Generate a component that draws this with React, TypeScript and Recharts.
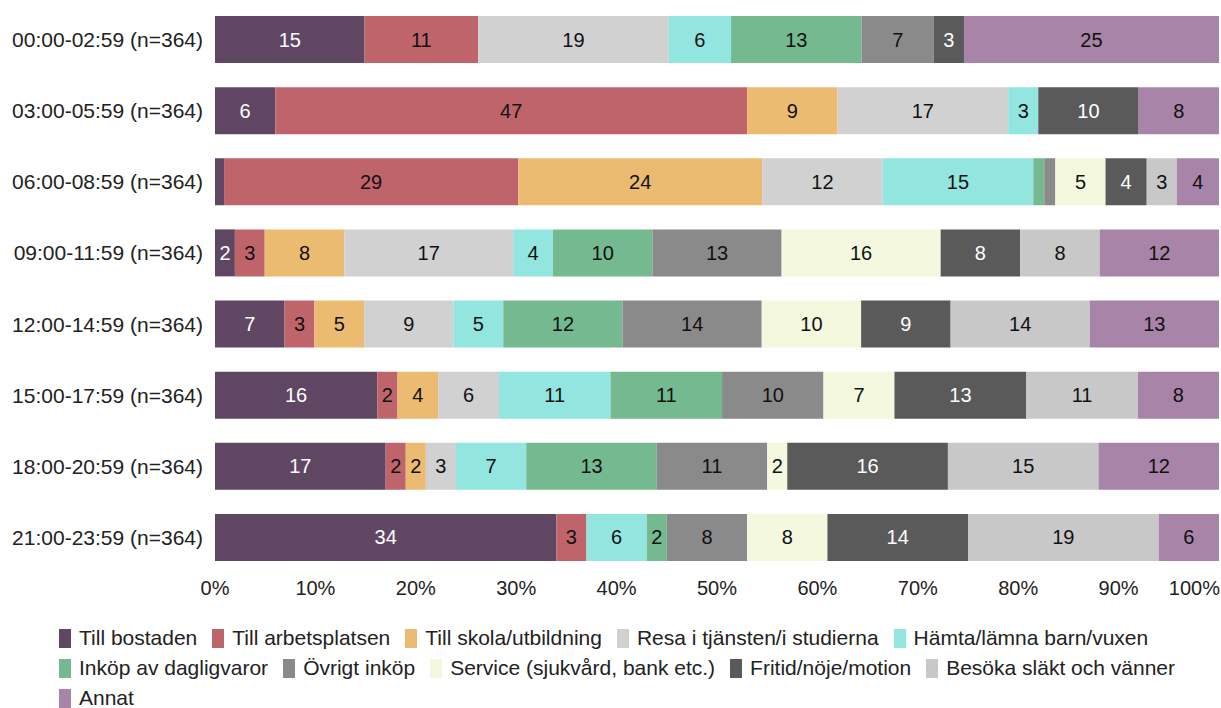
import React from 'react';
import { BarChart, Bar, XAxis, YAxis, Legend, LabelList } from 'recharts';

const categories = [
  '00:00-02:59 (n=364)',
  '03:00-05:59 (n=364)',
  '06:00-08:59 (n=364)',
  '09:00-11:59 (n=364)',
  '12:00-14:59 (n=364)',
  '15:00-17:59 (n=364)',
  '18:00-20:59 (n=364)',
  '21:00-23:59 (n=364)',
];

const tillBostaden = [14.9, 6, 0.9, 2, 7, 16, 17, 34];
const tillArbetsplatsen = [11.3, 47, 29.3, 3, 3, 2, 2, 3];
const tillSkola = [0, 9, 24.3, 8, 5, 4, 2, 0];
const resaTjansten = [19, 17, 12, 17, 9, 6, 3, 0];
const hamtaLamna = [6.2, 3, 15, 4, 5, 11, 7, 6];
const inkopDagligvaror = [13, 0, 1.1, 10, 12, 11, 13, 2];
const ovrigtInkop = [7.2, 0, 1.1, 13, 14, 10, 11, 8];
const service = [0, 0, 5, 16, 10, 7, 2, 8];
const fritid = [3, 10, 4.1, 8, 9, 13, 16, 14];
const besoka = [0, 0, 3, 8, 14, 11, 15, 19];
const annat = [25.4, 8, 4.2, 12, 13, 8, 12, 6];

const xTicks = [0, 0.1, 0.2, 0.3, 0.4, 0.5, 0.6, 0.7, 0.8, 0.9, 1];

const series = [
  { key: 's0', name: 'Till bostaden', values: tillBostaden, color: '#5f4763', text: '#ffffff' },
  { key: 's1', name: 'Till arbetsplatsen', values: tillArbetsplatsen, color: '#c0646c', text: '#111111' },
  { key: 's2', name: 'Till skola/utbildning', values: tillSkola, color: '#ecbb72', text: '#111111' },
  { key: 's3', name: 'Resa i tjänsten/i studierna', values: resaTjansten, color: '#d1d1d1', text: '#111111' },
  { key: 's4', name: 'Hämta/lämna barn/vuxen', values: hamtaLamna, color: '#93e6e0', text: '#111111' },
  { key: 's5', name: 'Inköp av dagligvaror', values: inkopDagligvaror, color: '#74b990', text: '#111111' },
  { key: 's6', name: 'Övrigt inköp', values: ovrigtInkop, color: '#8a8a8a', text: '#111111' },
  { key: 's7', name: 'Service (sjukvård, bank etc.)', values: service, color: '#f3f8df', text: '#111111' },
  { key: 's8', name: 'Fritid/nöje/motion', values: fritid, color: '#5a5a5a', text: '#ffffff' },
  { key: 's9', name: 'Besöka släkt och vänner', values: besoka, color: '#c8c8c8', text: '#111111' },
  { key: 's10', name: 'Annat', values: annat, color: '#a885a8', text: '#111111' },
];

const data = categories.map((cat, i) => {
  const row: Record<string, any> = { cat };
  series.forEach((s) => {
    row[s.key] = s.values[i];
  });
  return row;
});

const FONT = '"Liberation Sans", Arial, sans-serif';

const makeLabel = (color: string) => (props: any) => {
  const { x, y, width, height, value } = props;
  if (value == null || value < 1.5) return null;
  return (
    <text
      x={x + width / 2}
      y={y + height / 2}
      textAnchor="middle"
      dominantBaseline="central"
      fill={color}
      fontSize={20}
      fontFamily={FONT}
    >
      {Math.round(value)}
    </text>
  );
};

const XTick = (props: any) => {
  const { x, y, payload } = props;
  const last = payload.value >= 1;
  return (
    <text
      x={last ? x + 1 : x}
      y={y}
      dy="0.71em"
      textAnchor={last ? 'end' : 'middle'}
      fill="#222222"
      fontSize={20}
      fontFamily={FONT}
    >
      {Math.round(payload.value * 100) + '%'}
    </text>
  );
};

const LegendContent = () => (
  <div
    style={{
      display: 'flex',
      flexWrap: 'wrap',
      alignContent: 'flex-start',
      width: 1142,
      fontFamily: FONT,
      fontSize: 21,
      color: '#222222',
      height: 90,
      lineHeight: '30px',
    }}
  >
    {series.map((s) => (
      <div
        key={s.key}
        style={{ display: 'flex', alignItems: 'center', height: 30, marginRight: 15 }}
      >
        <div style={{ width: 12, height: 19, background: s.color, marginRight: 8 }} />
        <span style={{ whiteSpace: 'nowrap' }}>{s.name}</span>
      </div>
    ))}
  </div>
);

export default function App() {
  return (
    <div style={{ position: 'absolute', left: 0, top: 0, width: 1221, height: 708, overflow: 'hidden' }}>
      <BarChart
        width={1221}
        height={708}
        data={data}
        layout="vertical"
        stackOffset="expand"
        margin={{ top: 4, right: 2, bottom: 15, left: 0 }}
      >
        <XAxis
          type="number"
          domain={[0, 1]}
          ticks={xTicks}
          axisLine={false}
          tickLine={false}
          tickSize={0}
          tickMargin={8}
          height={30}
          tick={<XTick />}
          interval={0}
        />
        <YAxis
          type="category"
          dataKey="cat"
          width={215}
          axisLine={false}
          tickLine={false}
          tickSize={0}
          tickMargin={12}
          tick={{ fill: '#222222', fontSize: 21, fontFamily: FONT }}
          interval={0}
        />
        <Legend
          content={<LegendContent />}
          verticalAlign="bottom"
          wrapperStyle={{ left: 59, top: 623, width: 1150 }}
        />
        {series.map((s) => (
          <Bar
            key={s.key}
            dataKey={s.key}
            name={s.name}
            stackId="a"
            fill={s.color}
            barSize={47}
            isAnimationActive={false}
          >
            <LabelList dataKey={s.key} content={makeLabel(s.text)} />
          </Bar>
        ))}
      </BarChart>
    </div>
  );
}
